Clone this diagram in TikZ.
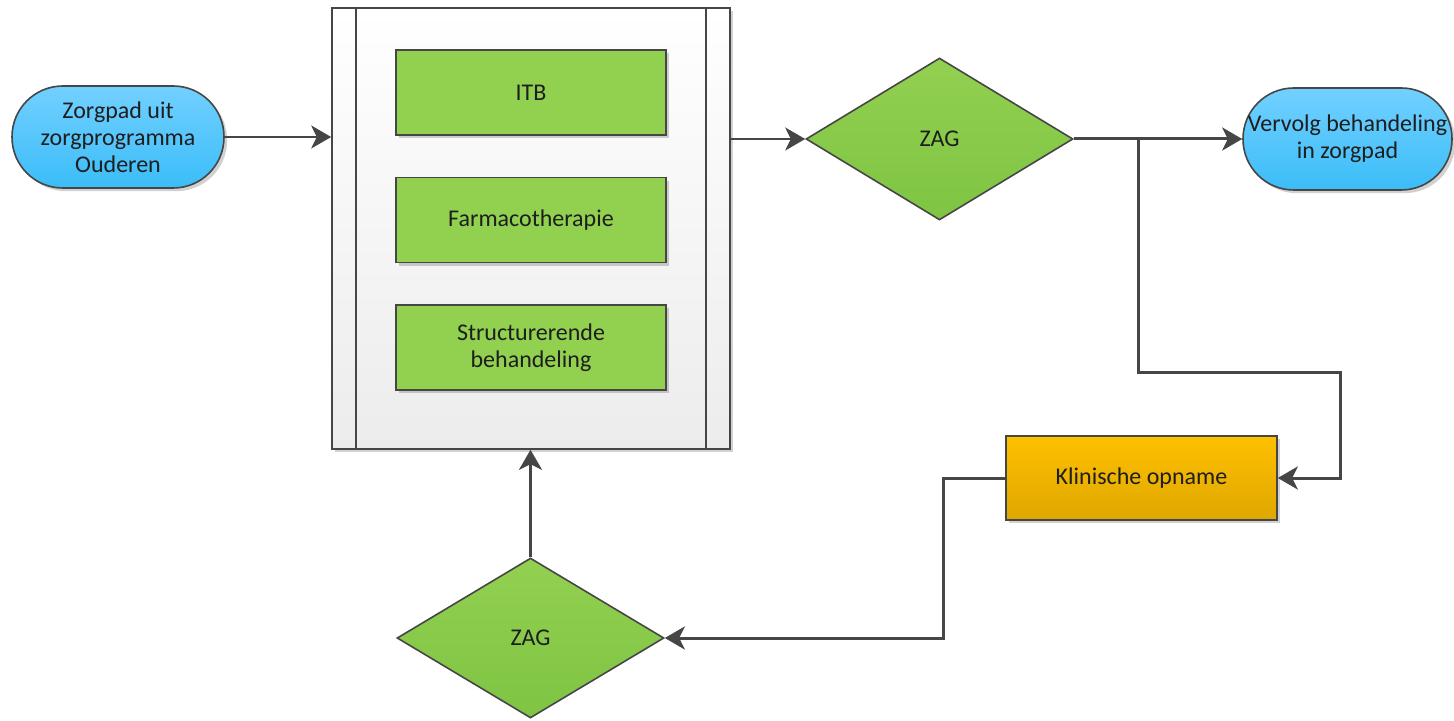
\documentclass[tikz,border=0pt]{standalone}
\usepackage{fontspec}
\setmainfont{Carlito}
\usetikzlibrary{shapes.geometric,arrows.meta,shadows,calc}

\definecolor{edge}{HTML}{464646}
\definecolor{txt}{HTML}{1E1E1E}
\definecolor{blueTop}{HTML}{72D0FF}
\definecolor{blueBot}{HTML}{3BBDF8}
\definecolor{leaf}{HTML}{92D050}
\definecolor{leafDark}{HTML}{7FC443}
\definecolor{amberTop}{HTML}{FFC000}
\definecolor{amberBot}{HTML}{DEA700}
\definecolor{panelBot}{HTML}{ECECEC}

\tikzset{
  base/.style={draw=edge, line width=0.8pt, text=txt, inner sep=0pt, align=center,
    font=\fontsize{12}{13.5}\selectfont},
  softshadow/.style={drop shadow={shadow xshift=1.6pt, shadow yshift=-1.6pt,
    fill=black, opacity=0.18}},
  terminal/.style={base, softshadow, rectangle, rounded corners=25.4pt,
    top color=blueTop, bottom color=blueBot},
  task/.style={base, softshadow, rectangle, fill=leaf,
    minimum width=135pt, minimum height=42.5pt},
  decision/.style={base, diamond, top color=leaf, bottom color=leafDark},
  ward/.style={base, softshadow, rectangle, top color=amberTop, bottom color=amberBot,
    minimum width=135.5pt, minimum height=42pt},
  panel/.style={draw=edge, line width=0.8pt, top color=white, bottom color=panelBot,
    softshadow, inner sep=0pt},
  tip/.style={-{Stealth[length=10pt, width=11.5pt, inset=2.8pt]}},
  flowthin/.style={draw=edge, line width=1.1pt},
  flow/.style={draw=edge, line width=1.5pt},
}

\begin{document}
\begin{tikzpicture}[x=0.5pt, y=-0.5pt]
  \useasboundingbox (0,0) rectangle (1454,721);

  % container with the three parallel treatments
  \node[panel, minimum width=199pt, minimum height=220.5pt] (panel) at (531,228.5) {};
  \draw[edge, line width=0.8pt] ([xshift=12.5pt]panel.north west) -- ([xshift=12.5pt]panel.south west);
  \draw[edge, line width=0.8pt] ([xshift=-12.5pt]panel.north east) -- ([xshift=-12.5pt]panel.south east);

  \node[task] (itb) at (531,92.5) {ITB};
  \node[task] (farma) at (531,220) {Farmacotherapie};
  \node[task] (struct) at (531,347.5) {Structurerende\\behandeling};

  % terminals
  \node[terminal, minimum width=106pt, minimum height=51pt] (start) at (118,137)
    {Zorgpad uit\\zorgprogramma\\Ouderen};
  \node[terminal, minimum width=104.5pt, minimum height=51pt] (end) at (1347.5,139)
    {Vervolg behandeling\\in zorgpad};

  % decisions
  \node[decision, minimum width=133.5pt, minimum height=81pt] (zag1) at (939.5,139) {ZAG};
  \node[decision, minimum width=133.5pt, minimum height=80pt] (zag2) at (530.5,638) {ZAG};

  % admission
  \node[ward] (klin) at (1141.5,478) {Klinische opname};

  % routing points
  \coordinate (split) at (1138,139);
  \coordinate (down1) at (1138,372);
  \coordinate (right1) at (1340,372);
  \coordinate (back1) at (943,478);

  % connectors
  \draw[flowthin, tip] (start.east) -- (start.east -| panel.west);
  \draw[flowthin, tip] (zag1.west -| panel.east) -- (zag1.west);
  \draw[flow, tip] (zag1.east) -- (end.west);
  \draw[flow, tip] (split) -- (down1) -- (right1) |- (klin.east);
  \draw[flow, tip] (klin.west) -- (back1) |- (zag2.east);
  \draw[flow, tip] (zag2.north) -- (zag2.north |- panel.south);
\end{tikzpicture}
\end{document}
